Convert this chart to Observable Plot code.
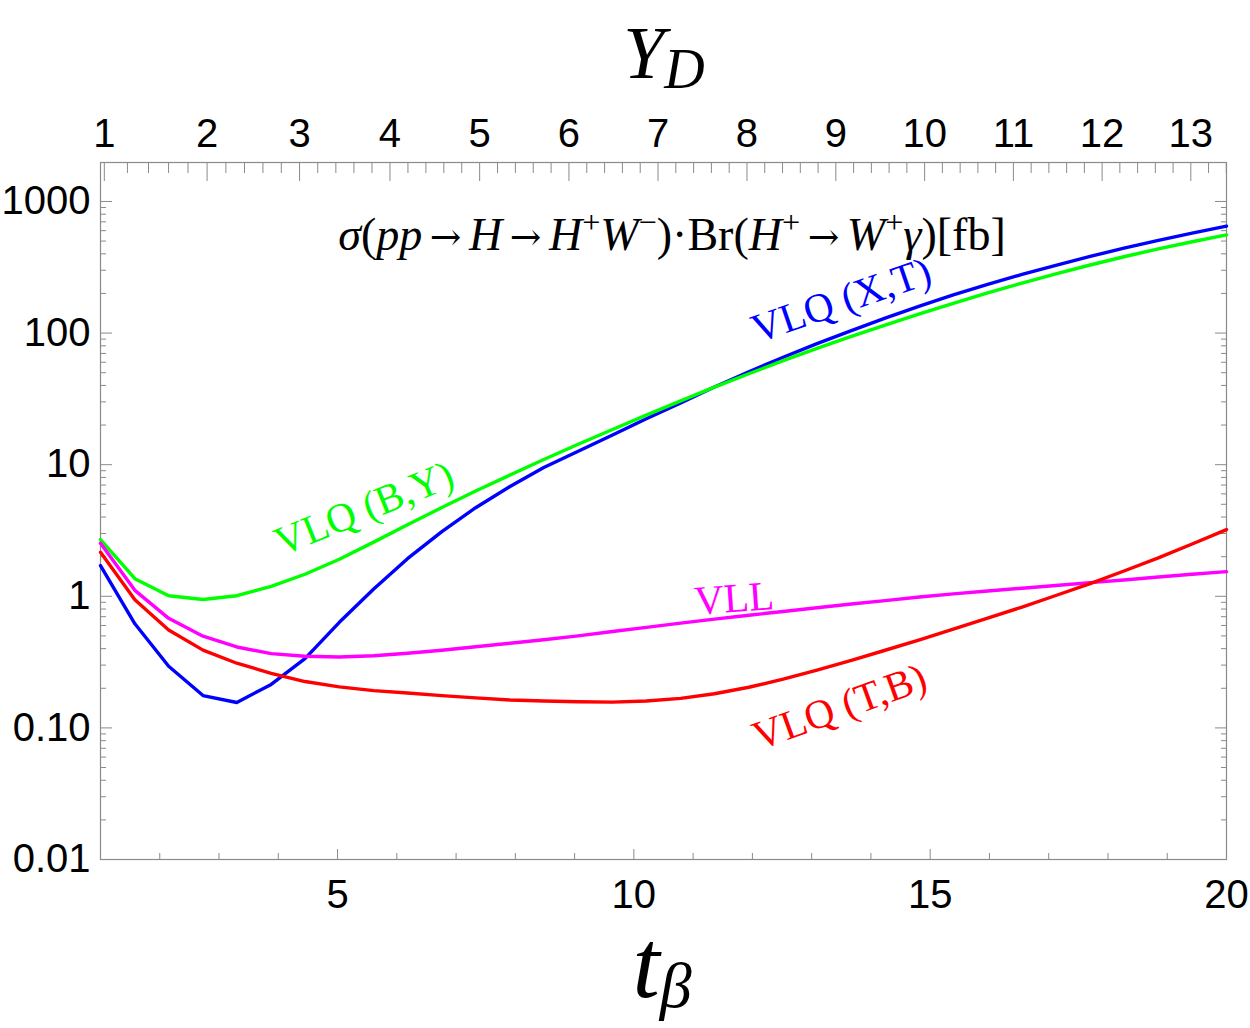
<!DOCTYPE html>
<html>
<head>
<meta charset="utf-8">
<script src="https://cdn.jsdelivr.net/npm/d3@7"></script>
<script src="https://cdn.jsdelivr.net/npm/@observablehq/plot@0.6"></script>
<style>
  html, body { margin: 0; padding: 0; background: #fff; }
</style>
</head>
<body>
<div id="chart"></div>
<script>
// Sampling points in t_beta
const tBeta = [1, 1.58, 2.15, 2.73, 3.30, 3.88, 4.45, 5.03, 5.61, 6.18, 6.76, 7.33, 7.91, 8.48,
  9.06, 9.64, 10.21, 10.79, 11.36, 11.94, 12.52, 13.09, 13.67, 14.24, 14.82, 15.39, 15.97,
  16.55, 17.12, 17.70, 18.27, 18.85, 19.42, 20];

// sigma(pp -> H -> H+ W-) * Br(H+ -> W+ gamma) in fb
const vlqXT = [1.71, 0.618, 0.294, 0.176, 0.156, 0.214, 0.336, 0.634, 1.135, 1.93, 3.10, 4.71, 6.82, 9.51,
  12.65, 16.8, 22.3, 29.5, 38.9, 50.8, 65.5, 83.2, 104.5, 129.7, 160, 195, 234,
  279, 327, 382, 442, 506, 575, 649];
const vlqBY = [2.70, 1.36, 1.01, 0.946, 1.01, 1.19, 1.47, 1.91, 2.58, 3.50, 4.72, 6.30, 8.34, 10.96,
  14.3, 18.5, 23.8, 30.5, 38.8, 49.1, 61.7, 76.6, 94.2, 115, 140, 168, 202,
  240, 282, 329, 380, 436, 494, 557];
const vll = [2.53, 1.11, 0.68, 0.497, 0.412, 0.367, 0.350, 0.346, 0.353, 0.369, 0.389, 0.414, 0.440, 0.467,
  0.500, 0.540, 0.581, 0.625, 0.670, 0.717, 0.767, 0.819, 0.873, 0.927, 0.987, 1.044, 1.097,
  1.151, 1.208, 1.27, 1.33, 1.40, 1.47, 1.54];
const vlqTB = [2.16, 0.94, 0.555, 0.39, 0.31, 0.26, 0.225, 0.205, 0.192, 0.184, 0.176, 0.169, 0.163, 0.160,
  0.158, 0.157, 0.160, 0.1675, 0.1816, 0.2037, 0.2344, 0.2748, 0.326, 0.389, 0.467, 0.562, 0.681,
  0.828, 1.014, 1.25, 1.556, 1.959, 2.495, 3.21];

const seriesNames = ["VLQ (X,T)", "VLQ (B,Y)", "VLL", "VLQ (T,B)"];
const seriesValues = [vlqXT, vlqBY, vll, vlqTB];
const seriesColors = ["#0000ff", "#00ff00", "#ff00ff", "#ff0000"];

// In-plot curve labels
const labelText = ["VLQ (X,T)", "VLQ (B,Y)", "VLL", "VLQ (T,B)"];
const labelT = [13.5, 5.45, 11.69, 13.47];
const labelV = [177, 4.64, 0.957, 0.1435];
const labelAngle = [-19, -22, -4, -20];

// Axis ticks
const xTickValues = [5, 10, 15, 20];
const xMinorTicks = [2, 3, 4, 6, 7, 8, 9, 11, 12, 13, 14, 16, 17, 18, 19];
const yTickValues = [0.01, 0.1, 1, 10, 100, 1000];
const yTickLabels = ["0.01", "0.10", "1", "10", "100", "1000"];
const yDLabels = [1, 2, 3, 4, 5, 6, 7, 8, 9, 10, 11, 12, 13];

const yMax = 1977;
// t_beta position of a given Y_D on the top axis
const tFromYD = y => Math.sqrt(2.233 * y * y - 1.1);

const rows = [];
tBeta.forEach((t, i) => seriesValues.forEach((arr, k) => rows.push({t, v: arr[i], s: seriesNames[k]})));

const labels = labelText.map((name, i) => ({name, t: labelT[i], v: labelV[i], angle: labelAngle[i]}));

const yMinorTicks = [];
for (const d of yTickValues) for (let m = 2; m <= 9; m++) if (d * m <= yMax) yMinorTicks.push(d * m);

const yDMajorT = yDLabels.map(tFromYD);
const yDMinorT = [];
for (let y = 1; y <= 14; y++) for (let k = 1; k <= 4; k++) {
  const t = tFromYD(y + k / 5);
  if (t < 20) yDMinorT.push(t);
}
const yDLabelOf = new Map(yDMajorT.map((t, i) => [t, String(yDLabels[i])]));
const yLabelOf = new Map(yTickValues.map((v, i) => [v, yTickLabels[i]]));

const gray = "#8a8a8a";
const sans = "'Liberation Sans', Arial, sans-serif";
const serif = "'Liberation Serif', 'Times New Roman', serif";

const svg = Plot.plot({
  width: 1250,
  height: 1028,
  marginLeft: 100,
  marginRight: 24,
  marginTop: 162,
  marginBottom: 169,
  style: {fontFamily: sans, fontSize: "40px", color: "black", background: "white"},
  x: {domain: [1, 20], label: null},
  y: {type: "log", domain: [0.01, yMax], label: null},
  color: {domain: seriesNames, range: seriesColors},
  marks: [
    Plot.frame({stroke: gray, strokeWidth: 1.2}),
    // bottom axis
    Plot.axisX(xTickValues, {anchor: "bottom", tickSize: -10, fill: "none", stroke: gray, label: null}),
    Plot.axisX(xMinorTicks, {anchor: "bottom", tickSize: -6, fill: "none", stroke: gray, label: null}),
    Plot.axisX(xTickValues, {anchor: "bottom", tickSize: 0, tickPadding: 20, fontSize: 40, label: null}),
    // top axis (Y_D)
    Plot.axisX(yDMajorT, {anchor: "top", tickSize: -18, fill: "none", stroke: gray, label: null}),
    Plot.axisX(yDMinorT, {anchor: "top", tickSize: -10, fill: "none", stroke: gray, label: null}),
    Plot.axisX(yDMajorT, {anchor: "top", tickSize: 0, tickPadding: 16, fontSize: 40,
      tickFormat: d => yDLabelOf.get(d), label: null}),
    // left axis
    Plot.axisY(yTickValues, {anchor: "left", tickSize: -12, fill: "none", stroke: gray, label: null}),
    Plot.axisY(yMinorTicks, {anchor: "left", tickSize: -6, fill: "none", stroke: gray, label: null}),
    Plot.axisY(yTickValues, {anchor: "left", tickSize: 0, tickPadding: 10, fontSize: 40,
      tickFormat: d => yLabelOf.get(d), label: null}),
    // right axis (ticks only)
    Plot.axisY(yTickValues, {anchor: "right", tickSize: -12, fill: "none", stroke: gray, label: null}),
    Plot.axisY(yMinorTicks, {anchor: "right", tickSize: -6, fill: "none", stroke: gray, label: null}),
    // curves
    Plot.line(rows, {x: "t", y: "v", z: "s", stroke: "s", strokeWidth: 3.4, strokeLinejoin: "round"}),
    // curve labels
    Plot.text(labels, {x: "t", y: "v", text: "name", rotate: "angle", fill: "name",
      fontFamily: serif, fontSize: 41})
  ]
});

// Rich text (italics, sub/superscripts, arrows) for titles and the formula
function richText(parent, x, y, size, parts) {
  const text = d3.select(parent).append("text")
    .attr("x", x).attr("y", y)
    .attr("text-anchor", "middle")
    .attr("font-family", serif)
    .attr("font-size", size)
    .attr("fill", "black");
  let shift = 0;
  for (const [str, kind, opt] of parts) {
    const span = text.append("tspan").text(str);
    let target = 0;
    if (kind.includes("sup")) { target = -0.36 * size; span.attr("font-size", 0.7 * size); }
    if (kind.includes("sub")) { target = (opt && opt.shift) || 0.2 * size; span.attr("font-size", (opt && opt.size) || 0.75 * size); }
    if (kind.includes("arrow")) { span.attr("font-family", "'DejaVu Serif', serif").attr("font-size", 0.82 * size); }
    if (target !== shift) { span.attr("dy", target - shift); shift = target; }
    if (kind.includes("i")) span.attr("font-style", "italic");
  }
  return text;
}

const arrow = "\u2009\u2192\u2009";
richText(svg, 664, 78, 74, [["Y", "i"], ["D", "i sub", {size: 56, shift: 10}]]);
richText(svg, 662, 997, 98, [["t", "i"], ["β", "i sub", {size: 64, shift: 10}]]);
richText(svg, 672, 250, 46, [
  ["σ", "i"], ["(", "r"], ["pp", "i"], [arrow, "arrow"], ["H", "i"], [arrow, "arrow"], ["H", "i"],
  ["+", "sup"], ["W", "i"], ["−", "sup"], [")·Br(", "r"], ["H", "i"], ["+", "sup"],
  [arrow, "arrow"], ["W", "i"], ["+", "sup"], ["γ", "i"], [")[fb]", "r"]
]);

document.getElementById("chart").appendChild(svg);
</script>
</body>
</html>
